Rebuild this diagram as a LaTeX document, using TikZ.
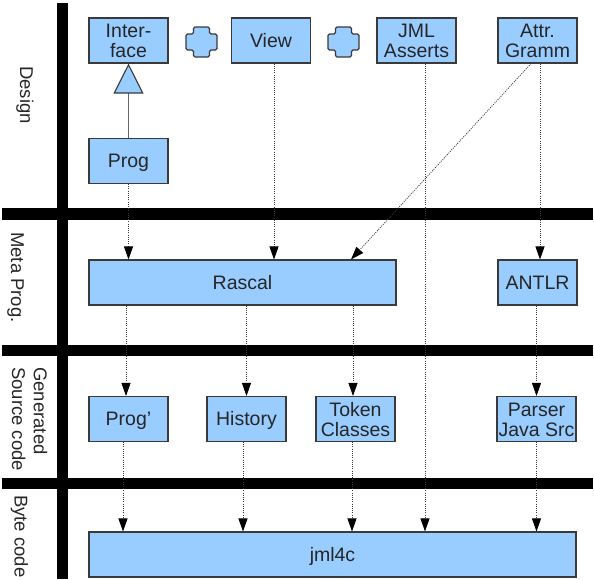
\documentclass[tikz,border=0pt]{standalone}
\usepackage{fontspec}
\setmainfont{Liberation Sans}
\usetikzlibrary{arrows.meta,calc}
\definecolor{boxblue}{HTML}{99CCFF}
\definecolor{boxline}{HTML}{3A3A3A}
\definecolor{txt}{HTML}{262626}
\newcommand\tpstrut{\rule{0pt}{17.5pt}}
\newcommand\btstrut{\rule[-3.5pt]{0pt}{0pt}}
\begin{document}
\begin{tikzpicture}[x=1pt,y=-1pt,
  box/.style={draw=boxline, fill=boxblue, line width=1.1pt, minimum width=79pt,
    minimum height=45pt, inner sep=0pt, align=center,
    font=\fontsize{19.5}{20}\selectfont, text=txt},
  lane/.style={font=\fontsize{18.5}{21.7}\selectfont, text=txt, rotate=-90, inner sep=0pt},
  dep/.style={draw=boxline, line width=0.8pt, dash pattern=on 1pt off 1.2pt,
    -{Triangle[length=13pt,width=9pt,fill=black,color=black]}},
  plus/.style={draw=boxline, fill=boxblue, line width=1.1pt, rounded corners=1.5pt},
  bar/.style={fill=black}]

\useasboundingbox (0,0) rectangle (594,579);

% swimlane bars
\fill[bar] (57,3) rectangle (68,579);
\fill[bar] (2,208) rectangle (593,220);
\fill[bar] (2,345) rectangle (593,356);
\fill[bar] (2,478) rectangle (593,489);

% lane labels
\node[lane, anchor=base west] (lDesign) at (20,66) {Design};
\node[lane, anchor=base west] (lMeta) at (11,232) {Meta Prog.};
\node[lane, anchor=north west, align=left] (lGen) at (47.5,367) {Generated\\Source code};
\node[lane, anchor=base west] (lByte) at (14.5,495) {Byte code};

% design
\node[box] (Interface) at (128.5,40.5) {\tpstrut Inter-\\face\btstrut};
\node[box] (View) at (271,40.5) {\tpstrut View\btstrut};
\node[box] (JML) at (416.5,40.5) {\tpstrut JML\\Asserts\btstrut};
\node[box] (Attr) at (537.5,40.5) {\tpstrut Attr.\\Gramm\btstrut};
\node[box] (Prog) at (128.5,161) {\tpstrut Prog\btstrut};

% plus signs
\foreach \cx in {201.5,343.5}{
  \draw[plus] (\cx-8,27) -- (\cx+8,27) -- (\cx+8,34) -- (\cx+15.5,34) -- (\cx+15.5,50)
    -- (\cx+8,50) -- (\cx+8,57) -- (\cx-8,57) -- (\cx-8,50) -- (\cx-15.5,50)
    -- (\cx-15.5,34) -- (\cx-8,34) -- cycle;
}

% meta prog
\node[box, minimum width=307pt] (Rascal) at (242.5,282.5) {\tpstrut Rascal\btstrut};
\node[box] (ANTLR) at (537.5,282.5) {\tpstrut ANTLR\btstrut};

% generated source
\node[box] (Progp) at (128.5,419) {\tpstrut Prog’\btstrut};
\node[box] (History) at (246.5,419) {\tpstrut History\btstrut};
\node[box] (Token) at (355.5,419) {\tpstrut Token\\Classes\btstrut};
\node[box] (Parser) at (536.5,419) {\tpstrut Parser\\Java Src\btstrut};

% byte code
\node[box, minimum width=487pt] (jml) at (332.5,554.5) {\tpstrut jml4c\btstrut};

% realization
\draw[line width=1.1pt, draw=black!60,
  -{Triangle[length=30pt,width=30pt,fill=boxblue,color=boxline]}]
  (Prog.north) -- (Interface.south);

% dependencies
\draw[dep] (Prog.south) -- (Prog.south |- Rascal.north);
\draw[dep] ($(View.south)+(3,0)$) -- ($(View.south |- Rascal.north)+(3,0)$);
\draw[dep] ($(Attr.south)+(-6.5,0)$) -- ($(Rascal.north)+(108.5,0)$);
\draw[dep] ($(Attr.south)+(2.5,0)$) -- ($(ANTLR.north)+(2.5,0)$);
\draw[dep] ($(JML.south)+(8.5,0)$) -- ($(JML.south |- jml.north)+(8.5,0)$);

\draw[dep] ($(Progp.north |- Rascal.south)+(-2.5,0)$) -- ($(Progp.north)+(-2.5,0)$);
\draw[dep] (History.north |- Rascal.south) -- (History.north);
\draw[dep] ($(Token.north |- Rascal.south)+(-2.5,0)$) -- ($(Token.north)+(-2.5,0)$);
\draw[dep] (Parser.north |- ANTLR.south) -- (Parser.north);

\draw[dep] ($(Progp.south)+(-5.5,0)$) -- ($(Progp.south |- jml.north)+(-5.5,0)$);
\draw[dep] ($(History.south)+(-3.5,0)$) -- ($(History.south |- jml.north)+(-3.5,0)$);
\draw[dep] ($(Token.south)+(-3.5,0)$) -- ($(Token.south |- jml.north)+(-3.5,0)$);
\draw[dep] (Parser.south) -- (Parser.south |- jml.north);
\end{tikzpicture}
\end{document}
